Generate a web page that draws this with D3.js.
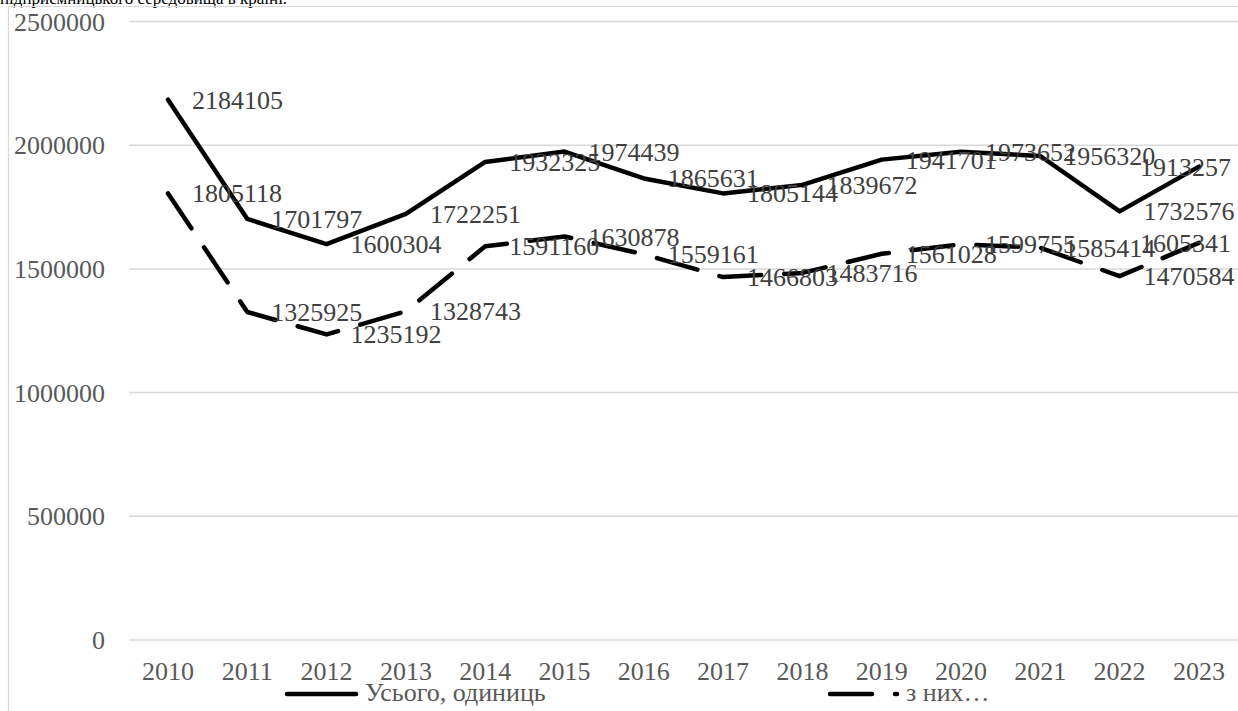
<!DOCTYPE html>
<html><head><meta charset="utf-8"><script src="https://cdn.jsdelivr.net/npm/d3@7"></script></head>
<body style="margin:0">
<svg width="1238" height="711"></svg>
<script>
// data
var years = ["2010", "2011", "2012", "2013", "2014", "2015", "2016", "2017", "2018", "2019", "2020", "2021", "2022", "2023"];
var totalUnits = [2184105, 1701797, 1600304, 1722251, 1932325, 1974439, 1865631, 1805144, 1839672, 1941701, 1973652, 1956320, 1732576, 1913257];
var ofThem = [1805118, 1325925, 1235192, 1328743, 1591160, 1630878, 1559161, 1466803, 1483716, 1561028, 1599755, 1585414, 1470584, 1605341];
var yTicks = [0, 500000, 1000000, 1500000, 2000000, 2500000];
var seriesNames = ["Усього, одиниць", "з них…"];

var serif = "'Liberation Serif'";
var svg = d3.select("svg").style("font-family", serif);

// caption above the chart frame, cut off by the top edge
svg.append("text")
  .attr("x", 0).attr("y", 3.5)
  .attr("font-size", 17)
  .style("font-family", serif)
  .attr("fill", "#000")
  .text("підприємницького середовища в країні.");

// chart frame (only top and left edges fall inside the picture)
svg.append("path")
  .attr("d", "M8.5,711 V6.5 H1238")
  .attr("fill", "none")
  .attr("stroke", "#d9d9d9")
  .attr("stroke-width", 1.2);

var x = d3.scaleBand().domain(years).range([128.35, 1238.55]).padding(0);
var y = d3.scaleLinear().domain([0, 2500000]).range([640, 21.5]);
var cx = function(d) { return x(d) + x.bandwidth() / 2; };

// gridlines
svg.append("g").selectAll("line").data(yTicks).enter().append("line")
  .attr("x1", 129).attr("x2", 1238)
  .attr("y1", function(d) { return y(d); })
  .attr("y2", function(d) { return y(d); })
  .attr("stroke", "#d9d9d9")
  .attr("stroke-width", 1.5);

// y tick labels
svg.append("g").selectAll("text").data(yTicks).enter().append("text")
  .attr("x", 105)
  .attr("y", function(d) { return y(d) + 9; })
  .attr("text-anchor", "end")
  .attr("font-size", 26)
  .style("font-family", serif)
  .attr("fill", "#595959")
  .text(function(d) { return d; });

// x labels
svg.append("g").selectAll("text").data(years).enter().append("text")
  .attr("x", cx)
  .attr("y", 680)
  .attr("text-anchor", "middle")
  .attr("font-size", 26)
  .style("font-family", serif)
  .attr("fill", "#595959")
  .text(function(d) { return d; });

var line = d3.line()
  .x(function(d, i) { return cx(years[i]); })
  .y(function(d) { return y(d); });

var series = [
  {values: totalUnits, dash: null},
  {values: ofThem, dash: "42,23"}
];

series.forEach(function(s) {
  svg.append("path")
    .datum(s.values)
    .attr("d", line)
    .attr("fill", "none")
    .attr("stroke", "#000")
    .attr("stroke-width", 4.5)
    .attr("stroke-linecap", "round")
    .attr("stroke-linejoin", "round")
    .attr("stroke-dasharray", s.dash);
});

// data labels right of each point; the last year is pulled inside the frame
var last = years.length - 1;
series.forEach(function(s) {
  svg.append("g").selectAll("text").data(s.values).enter().append("text")
    .attr("x", function(d, i) { return i === last ? 1231 : cx(years[i]) + 24; })
    .attr("y", function(d) { return y(d) + 9; })
    .attr("text-anchor", function(d, i) { return i === last ? "end" : "start"; })
    .attr("font-size", 26)
    .style("font-family", serif)
    .attr("fill", "#404040")
    .text(function(d) { return d; });
});

// legend
var legendX = [287, 830];
var legendLen = [69, 67];
seriesNames.forEach(function(name, i) {
  var g = svg.append("g").attr("transform", "translate(" + legendX[i] + ",694)");
  g.append("line")
    .attr("x1", 0).attr("x2", legendLen[i])
    .attr("y1", 0).attr("y2", 0)
    .attr("stroke", "#000")
    .attr("stroke-width", 4.5)
    .attr("stroke-linecap", "round")
    .attr("stroke-dasharray", series[i].dash);
  g.append("text")
    .attr("x", legendLen[i] + 9)
    .attr("y", 7)
    .attr("font-size", 26)
    .style("font-family", serif)
    .attr("fill", "#595959")
    .text(name);
});
</script>
</body></html>
